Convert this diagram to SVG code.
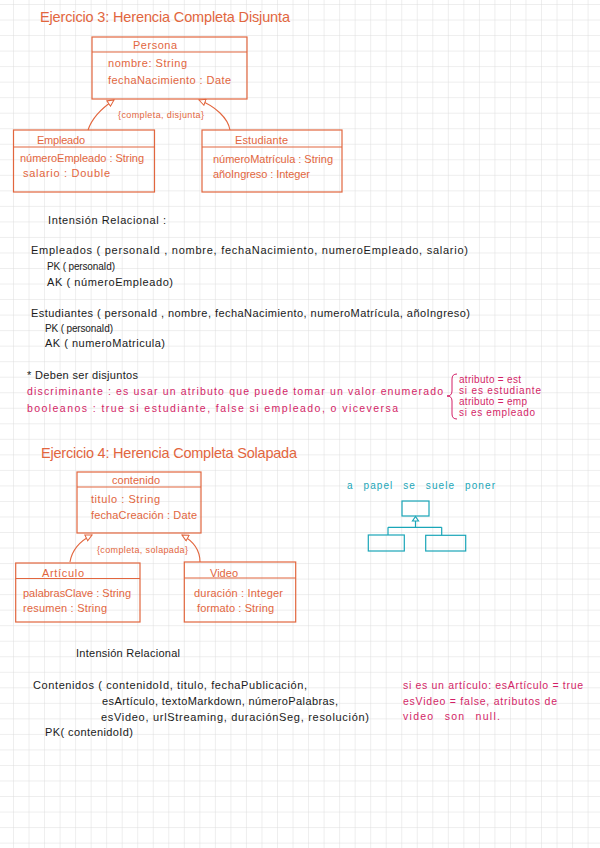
<svg xmlns="http://www.w3.org/2000/svg" width="600" height="848" viewBox="0 0 600 848">
<style>
text{font-family:"Liberation Sans",Arial,sans-serif;}
.t{fill:#1a1a1a;font-size:11px;}
.tp{fill:#1a1a1a;font-size:10px;}
.o{fill:#e2663e;font-size:11px;}
.ot{fill:#e2663e;font-size:14.5px;}
.os{fill:#e2663e;font-size:9px;}
.m{fill:#d31f67;font-size:10.5px;}
.ms{fill:#d31f67;font-size:10px;}
.c{fill:#1aa6b8;font-size:10px;}
.box{fill:none;stroke:#e2663e;stroke-width:1.2;}
.conn{fill:none;stroke:#e2663e;stroke-width:1.1;marker-end:url(#tri);}
.cy{fill:none;stroke:#1aa6b8;stroke-width:1.2;}
</style>
<defs>
<pattern id="grid" x="13" y="4" width="15.53" height="15.53" patternUnits="userSpaceOnUse">
<path d="M15.53 0 L0 0 0 15.53" fill="none" stroke="#d9d9d9" stroke-width="0.9"/>
</pattern>
<marker id="tri" viewBox="0 0 10 10" refX="9" refY="5" markerWidth="8" markerHeight="8" markerUnits="userSpaceOnUse" orient="auto">
<path d="M1,1 L9,5 L1,9 z" fill="#ffffff" stroke="#e2663e" stroke-width="1.3"/>
</marker>
</defs>
<rect width="600" height="848" fill="#ffffff"/>
<rect width="600" height="848" fill="url(#grid)"/>

<text class="ot" x="40" y="22" textLength="250" lengthAdjust="spacing">Ejercicio 3: Herencia Completa Disjunta</text>

<g id="persona">
<rect class="box" x="92" y="37" width="155" height="62"/>
<line class="box" x1="92" y1="52" x2="247" y2="52"/>
<text class="o" x="133" y="49" textLength="44" lengthAdjust="spacing">Persona</text>
<text class="o" x="108" y="67" textLength="79" lengthAdjust="spacing">nombre: String</text>
<text class="o" x="108" y="84" textLength="123" lengthAdjust="spacing">fechaNacimiento : Date</text>
</g>

<g id="empleado">
<rect class="box" x="13.5" y="130" width="141" height="62"/>
<line class="box" x1="13.5" y1="147" x2="154.5" y2="147"/>
<text class="o" x="37" y="144" textLength="48" lengthAdjust="spacing">Empleado</text>
<text class="o" x="20" y="162" textLength="124" lengthAdjust="spacing">númeroEmpleado : String</text>
<text class="o" x="23" y="177" textLength="87" lengthAdjust="spacing">salario : Double</text>
</g>

<g id="estudiante">
<rect class="box" x="202" y="130" width="140" height="62"/>
<line class="box" x1="202" y1="147" x2="342" y2="147"/>
<text class="o" x="235" y="144" textLength="53" lengthAdjust="spacing">Estudiante</text>
<text class="o" x="213" y="163" textLength="120" lengthAdjust="spacing">númeroMatrícula : String</text>
<text class="o" x="213" y="178" textLength="97" lengthAdjust="spacing">añoIngreso : Integer</text>
</g>

<g id="contenido">
<rect class="box" x="77" y="472" width="124" height="61"/>
<line class="box" x1="77" y1="487" x2="201" y2="487"/>
<text class="o" x="112" y="484" textLength="48" lengthAdjust="spacing">contenido</text>
<text class="o" x="91" y="503" textLength="69" lengthAdjust="spacing">titulo : String</text>
<text class="o" x="91" y="519" textLength="106" lengthAdjust="spacing">fechaCreación : Date</text>
</g>

<g id="articulo">
<rect class="box" x="15.7" y="563" width="124.3" height="59"/>
<line class="box" x1="15.7" y1="578.5" x2="140" y2="578.5"/>
<text class="o" x="42" y="577" textLength="42" lengthAdjust="spacing">Artículo</text>
<text class="o" x="23" y="597" textLength="108" lengthAdjust="spacing">palabrasClave : String</text>
<text class="o" x="23" y="612" textLength="84" lengthAdjust="spacing">resumen : String</text>
</g>

<g id="video">
<rect class="box" x="184.3" y="562" width="111.4" height="60"/>
<line class="box" x1="184.3" y1="578" x2="295.7" y2="578"/>
<text class="o" x="210" y="577" textLength="28" lengthAdjust="spacing">Video</text>
<text class="o" x="194" y="597" textLength="89" lengthAdjust="spacing">duración : Integer</text>
<text class="o" x="197" y="612" textLength="77" lengthAdjust="spacing">formato : String</text>
</g>

<g id="connectors">
<path class="conn" d="M88,130 C92,118 102,108 114,100"/>
<path class="conn" d="M230,130 C228,118 215,106 199,100"/>
<path class="conn" d="M70,562 C72,550 80,541 92,535"/>
<path class="conn" d="M200,562 C200,550 193,541 182,535"/>
</g>
<text class="os" x="118" y="118" textLength="86" lengthAdjust="spacing">{completa, disjunta}</text>
<text class="os" x="97" y="553" textLength="91" lengthAdjust="spacing">{completa, solapada}</text>

<g id="intension1">
<text class="t" x="48" y="224" textLength="118" lengthAdjust="spacing">Intensión  Relacional :</text>
<text class="t" x="31" y="254" textLength="437" lengthAdjust="spacing">Empleados ( personaId , nombre, fechaNacimiento, numeroEmpleado, salario)</text>
<text class="tp" x="47" y="270" textLength="68" lengthAdjust="spacing">PK ( personaId)</text>
<text class="t" x="47" y="286" textLength="126" lengthAdjust="spacing">AK ( númeroEmpleado)</text>
<text class="t" x="31" y="317" textLength="439" lengthAdjust="spacing">Estudiantes ( personaId , nombre, fechaNacimiento, numeroMatrícula, añoIngreso)</text>
<text class="tp" x="45" y="332" textLength="68" lengthAdjust="spacing">PK ( personaId)</text>
<text class="t" x="45" y="347" textLength="120" lengthAdjust="spacing">AK ( numeroMatricula)</text>
</g>

<g id="nota-disjuntos">
<text class="t" x="27" y="379" textLength="111" lengthAdjust="spacing">* Deben  ser disjuntos</text>
<text class="m" x="27" y="395" textLength="416" lengthAdjust="spacing">discriminante : es usar un atributo que puede tomar un valor enumerado</text>
<text class="m" x="27" y="412" textLength="371" lengthAdjust="spacing">booleanos : true si estudiante, false si empleado, o viceversa</text>
<path d="M457,374 Q452,374 452,379 L452,391 Q452,396 447,396 Q452,396 452,401 L452,414 Q452,419 457,419" fill="none" stroke="#d31f67" stroke-width="1"/>
<text class="ms" x="459" y="383" textLength="62" lengthAdjust="spacing">atributo = est</text>
<text class="ms" x="459" y="394" textLength="82" lengthAdjust="spacing">si es estudiante</text>
<text class="ms" x="459" y="405" textLength="68" lengthAdjust="spacing">atributo = emp</text>
<text class="ms" x="459" y="416" textLength="76" lengthAdjust="spacing">si es empleado</text>
</g>

<text class="ot" x="41" y="458" textLength="256" lengthAdjust="spacing">Ejercicio 4: Herencia Completa Solapada</text>

<g id="nota-papel">
<text class="c" x="347" y="489" textLength="148" lengthAdjust="spacing" word-spacing="6">a papel se suele poner</text>
<rect class="cy" x="402" y="501" width="27" height="15"/>
<path class="cy" d="M415.5,516.5 L412.5,521 L418.5,521 Z"/>
<path class="cy" d="M415.5,521 L415.5,527.3 M388,527.3 L441.7,527.3 M388,527.3 L388,535 M441.7,527.3 L441.7,535.3"/>
<rect class="cy" x="368.3" y="535" width="36" height="16"/>
<rect class="cy" x="425.7" y="535.3" width="40" height="15.7"/>
</g>

<g id="intension2">
<text class="t" x="76" y="657" textLength="104" lengthAdjust="spacing">Intensión  Relacional</text>
<text class="t" x="33" y="689" textLength="274" lengthAdjust="spacing">Contenidos ( contenidoId, titulo, fechaPublicación,</text>
<text class="t" x="102" y="705" textLength="236" lengthAdjust="spacing">esArtículo, textoMarkdown, númeroPalabras,</text>
<text class="t" x="101" y="721" textLength="268" lengthAdjust="spacing">esVideo, urlStreaming, duraciónSeg, resolución)</text>
<text class="t" x="45" y="736" textLength="88" lengthAdjust="spacing">PK( contenidoId)</text>
</g>

<g id="nota-nulls">
<text class="m" x="403" y="689" textLength="180" lengthAdjust="spacing">si es un artículo: esArtículo = true</text>
<text class="m" x="403" y="705" textLength="154" lengthAdjust="spacing">esVideo = false, atributos de</text>
<text class="m" x="403" y="720" textLength="97" lengthAdjust="spacing" word-spacing="6">video son null.</text>
</g>
</svg>
